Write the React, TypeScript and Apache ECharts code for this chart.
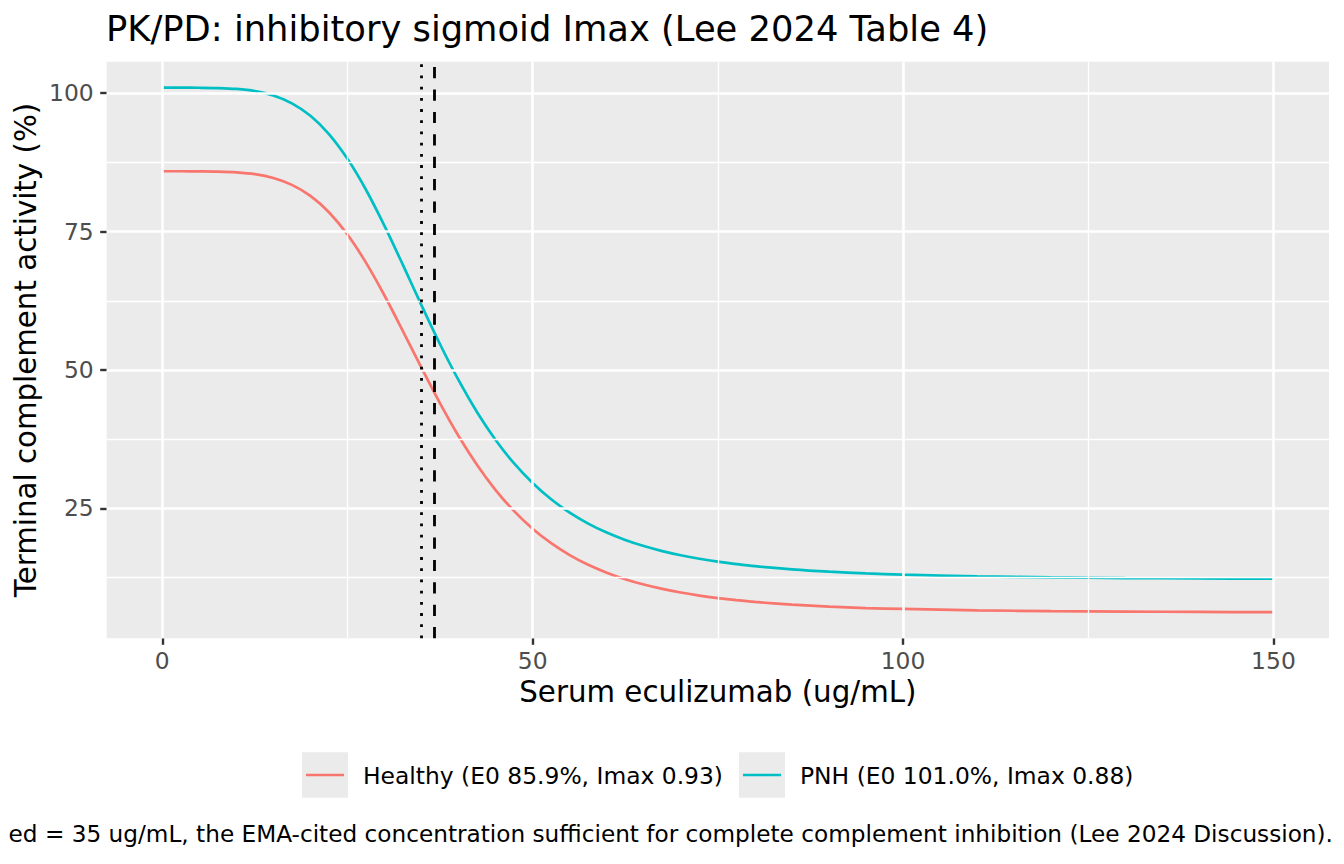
import React, { useEffect, useRef } from "react";
import * as echarts from "echarts";

// ---- data ----
const concentration = [
  0, 2.5, 5, 7.5, 10, 12.5, 15, 17.5, 20, 22.5, 25, 27.5, 30, 32.5, 35, 37.5, 40, 42.5, 45, 47.5,
  50, 52.5, 55, 57.5, 60, 62.5, 65, 67.5, 70, 72.5, 75, 77.5, 80, 85, 90, 95, 100, 110, 120, 130, 140, 150,
];
const healthyActivity = [
  85.9, 85.9, 85.89, 85.85, 85.71, 85.38, 84.68, 83.44, 81.44, 78.49, 74.46, 69.39, 63.45, 56.98, 50.36, 43.96, 38.05, 32.81, 28.29, 24.48,
  21.3, 18.69, 16.54, 14.78, 13.36, 12.18, 11.21, 10.42, 9.77, 9.22, 8.77, 8.39, 8.07, 7.58, 7.22, 6.95, 6.8, 6.55, 6.42, 6.33, 6.27, 6.22,
];
const pnhActivity = [
  101.0, 101.0, 100.99, 100.94, 100.78, 100.39, 99.59, 98.18, 95.93, 92.63, 88.15, 82.56, 76.03, 68.93, 61.67, 54.64, 48.14, 42.36, 37.35, 33.1,
  29.57, 26.62, 24.21, 22.23, 20.6, 19.27, 18.17, 17.26, 16.51, 15.88, 15.35, 14.92, 14.54, 13.97, 13.55, 13.24, 13.0, 12.69, 12.51, 12.39, 12.32, 12.26,
];
const seriesNames = ["Healthy (E0 85.9%, Imax 0.93)", "PNH (E0 101.0%, Imax 0.88)"];
const seriesColors = ["#F8766D", "#00BFC4"];
const xTicks = [0, 50, 100, 150];
const xMinorTicks = [25, 75, 125];
const yTicks = [25, 50, 75, 100];
const yMinorTicks = [12.5, 37.5, 62.5, 87.5];
const dottedRef = 35;
const dashedRef = 36.7;
const titleText = "PK/PD: inhibitory sigmoid Imax (Lee 2024 Table 4)";
const xTitle = "Serum eculizumab (ug/mL)";
const yTitle = "Terminal complement activity (%)";
const captionText = "ed = 35 ug/mL, the EMA-cited concentration sufficient for complete complement inhibition (Lee 2024 Discussion).";

const FONT = "'DejaVu Sans', 'Noto Sans', sans-serif";

export default function App() {
  const ref = useRef<HTMLDivElement>(null);

  useEffect(() => {
    if (!ref.current) return;
    const chart = echarts.init(ref.current, undefined, { renderer: "svg" });

    const gridLeft = 106.7;
    const gridTop = 61.7;
    const gridW = 1222.3;
    const gridH = 576.6;

    const gridLines = [
      ...xTicks.map((v) => ({ xAxis: v, lineStyle: { color: "#FFFFFF", width: 2.6, type: "solid" } })),
      ...xMinorTicks.map((v) => ({ xAxis: v, lineStyle: { color: "#FFFFFF", width: 1.3, type: "solid" } })),
      ...yTicks.map((v) => ({ yAxis: v, lineStyle: { color: "#FFFFFF", width: 2.6, type: "solid" } })),
      ...yMinorTicks.map((v) => ({ yAxis: v, lineStyle: { color: "#FFFFFF", width: 1.3, type: "solid" } })),
    ];

    const makeData = (ys: number[]) => concentration.map((x, i) => [x, ys[i]]);

    const legendItems = seriesNames
      .map((name, i) => {
        const boxX = i === 0 ? 302 : 739;
        return [
          { type: "rect", shape: { x: boxX, y: 752.3, width: 46, height: 45.4 }, style: { fill: "#EBEBEB" }, silent: true },
          { type: "line", shape: { x1: boxX + 4, y1: 775, x2: boxX + 42, y2: 775 }, style: { stroke: seriesColors[i], lineWidth: 2.7 }, silent: true },
          {
            type: "text",
            x: boxX + 61,
            y: 776,
            style: { text: name, fontSize: 23.4, fontFamily: FONT, fill: "#000000", align: "left", verticalAlign: "middle", textAlign: "left", textVerticalAlign: "middle" },
            silent: true,
          },
        ];
      })
      .flat();

    const tickStyle = { color: "#333333", width: 2.4 };
    const labelStyle = { fontSize: 23.4, color: "#4D4D4D", fontFamily: FONT };

    chart.setOption({
      animation: false,
      backgroundColor: "#FFFFFF",
      textStyle: { fontFamily: FONT },
      grid: {
        left: gridLeft,
        top: gridTop,
        width: gridW,
        height: gridH,
        show: true,
        backgroundColor: "#EBEBEB",
        borderWidth: 0,
        containLabel: false,
      },
      xAxis: {
        type: "value",
        min: -7.5,
        max: 157.5,
        axisLine: { show: false, onZero: false },
        axisTick: { show: true, customValues: xTicks, length: 6.5, lineStyle: tickStyle },
        axisLabel: { customValues: xTicks, margin: 11, ...labelStyle },
        splitLine: { show: false },
      },
      yAxis: {
        type: "value",
        min: 1.5,
        max: 105.7,
        axisLine: { show: false, onZero: false },
        axisTick: { show: true, customValues: yTicks, length: 6.5, lineStyle: tickStyle },
        axisLabel: { customValues: yTicks, margin: 13, ...labelStyle },
        splitLine: { show: false },
      },
      series: [
        {
          type: "line",
          name: "grid",
          data: [],
          z: 1,
          silent: true,
          markLine: {
            silent: true,
            symbol: ["none", "none"],
            label: { show: false },
            emphasis: { disabled: true },
            animation: false,
            data: gridLines,
          },
        },
        {
          type: "line",
          name: seriesNames[0],
          data: makeData(healthyActivity),
          showSymbol: false,
          smooth: 0.3,
          z: 2,
          silent: true,
          lineStyle: { color: seriesColors[0], width: 2.7 },
          itemStyle: { color: seriesColors[0] },
        },
        {
          type: "line",
          name: seriesNames[1],
          data: makeData(pnhActivity),
          showSymbol: false,
          smooth: 0.3,
          z: 2,
          silent: true,
          lineStyle: { color: seriesColors[1], width: 2.7 },
          itemStyle: { color: seriesColors[1] },
        },
        {
          type: "line",
          name: "refs",
          data: [],
          z: 3,
          silent: true,
          markLine: {
            silent: true,
            symbol: ["none", "none"],
            label: { show: false },
            emphasis: { disabled: true },
            animation: false,
            data: [
              { xAxis: dottedRef, lineStyle: { color: "#000000", width: 2.8, type: [2.8, 8.4] } },
              { xAxis: dashedRef, lineStyle: { color: "#000000", width: 2.8, type: [11.2, 11.2] } },
            ],
          },
        },
      ],
      graphic: [
        {
          type: "text",
          x: 106,
          y: 28.2,
          style: { text: titleText, fontSize: 35.3, fontFamily: FONT, fill: "#000000", align: "left", verticalAlign: "middle", textAlign: "left", textVerticalAlign: "middle" },
          silent: true,
        },
        {
          type: "text",
          x: gridLeft + gridW / 2,
          y: 692.2,
          style: { text: xTitle, fontSize: 29.3, fontFamily: FONT, fill: "#000000", align: "center", verticalAlign: "middle", textAlign: "center", textVerticalAlign: "middle" },
          silent: true,
        },
        {
          type: "text",
          x: 26,
          y: gridTop + gridH / 2,
          rotation: Math.PI / 2,
          style: { text: yTitle, fontSize: 29.3, fontFamily: FONT, fill: "#000000", align: "center", verticalAlign: "middle", textAlign: "center", textVerticalAlign: "middle" },
          silent: true,
        },
        ...legendItems,
        {
          type: "text",
          x: 1333,
          y: 833,
          style: { text: captionText, fontSize: 23.2, fontFamily: FONT, fill: "#000000", align: "right", verticalAlign: "middle", textAlign: "right", textVerticalAlign: "middle" },
          silent: true,
        },
      ],
    });

    return () => {
      chart.dispose();
    };
  }, []);

  return <div ref={ref} style={{ position: "absolute", left: 0, top: 0, width: 1344, height: 864 }} />;
}
